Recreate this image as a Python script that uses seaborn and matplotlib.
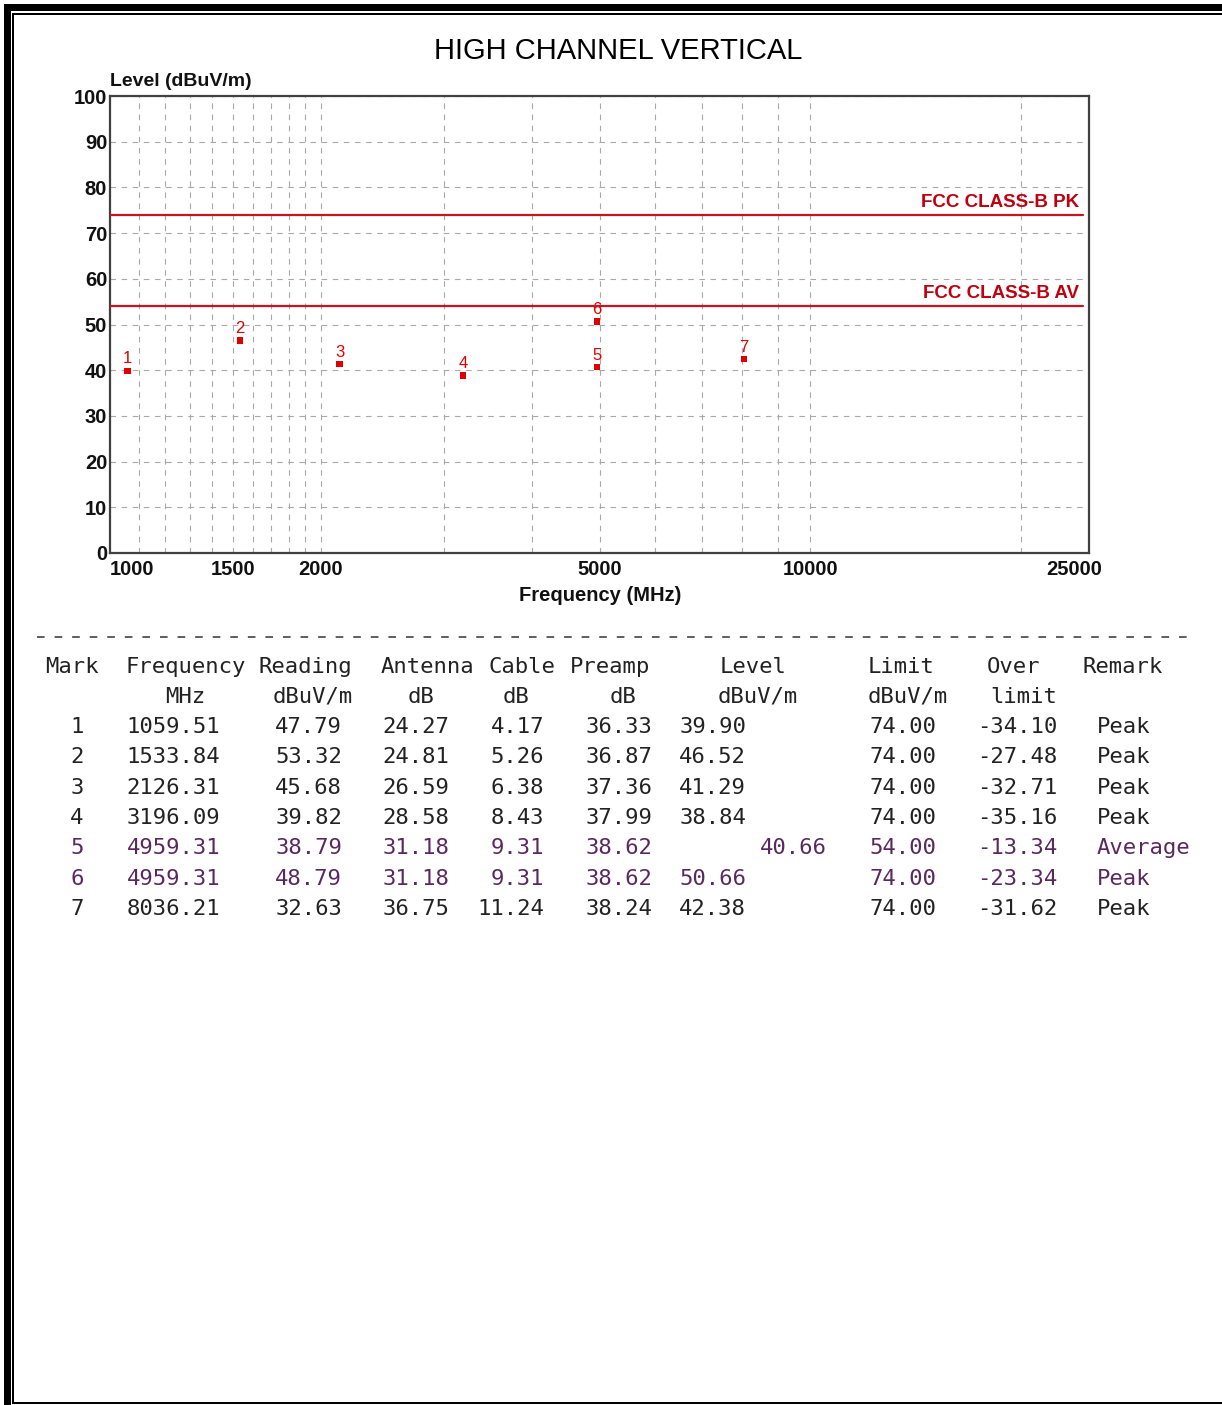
import matplotlib
matplotlib.use('Agg')
import matplotlib.pyplot as plt
import matplotlib.transforms as mtransforms
from matplotlib.ticker import NullFormatter
import seaborn as sns
import pandas as pd

# measured data (marker table)
marks = [1, 2, 3, 4, 5, 6, 7]
freq = [1059.51, 1533.84, 2126.31, 3196.09, 4959.31, 4959.31, 8036.21]
reading = [47.79, 53.32, 45.68, 39.82, 38.79, 48.79, 32.63]
antenna = [24.27, 24.81, 26.59, 28.58, 31.18, 31.18, 36.75]
cable = [4.17, 5.26, 6.38, 8.43, 9.31, 9.31, 11.24]
preamp = [36.33, 36.87, 37.36, 37.99, 38.62, 38.62, 38.24]
level = [39.90, 46.52, 41.29, 38.84, 40.66, 50.66, 42.38]
limit = [74.00, 74.00, 74.00, 74.00, 54.00, 74.00, 74.00]
over = [-34.10, -27.48, -32.71, -35.16, -13.34, -23.34, -31.62]
remark = ['Peak', 'Peak', 'Peak', 'Peak', 'Average', 'Peak', 'Peak']

# limit lines
limit_pk = 74
limit_av = 54
limit_names = ['FCC CLASS-B PK', 'FCC CLASS-B AV']

# axis ticks / grid
x_ticks = [1000, 1500, 2000, 5000, 10000, 25000]
x_grid = [1100, 1200, 1300, 1400, 1500, 1600, 1700, 1800, 1900, 2000,
          3000, 4000, 5000, 6000, 7000, 8000, 9000, 10000, 20000]
y_ticks = [0, 10, 20, 30, 40, 50, 60, 70, 80, 90, 100]

df = pd.DataFrame({'mark': marks, 'freq': freq, 'level': level})

W, H = 1222, 1405
NARROW = ['Liberation Sans Narrow', 'Liberation Sans', 'DejaVu Sans']
MONO = ['DejaVu Sans Mono']

sns.set_style('white')
plt.rcParams['font.family'] = ['Liberation Sans', 'DejaVu Sans']


def fx(x):
    return x / W


def fy(y):
    return 1 - y / H


fig = plt.figure(figsize=(W / 100, H / 100), dpi=100)

# page border (thick + thin double line)
def rect(x0, y0, x1, y1):
    fig.add_artist(plt.Rectangle((fx(x0), fy(y1)), fx(x1 - x0), (y1 - y0) / H,
                                 transform=fig.transFigure, color='black', lw=0))

rect(4, 4, W, 11)
rect(4, 4, 11, H)
rect(12, 13, W, 15)
rect(12, 13, 14, 1404)
rect(12, 1402, W, 1404)

ax = fig.add_axes([fx(110), fy(553), fx(1089 - 110), (553 - 96) / H])

sns.scatterplot(data=df, x='freq', y='level', ax=ax, marker='s', s=20,
                color='#e00000', edgecolor='none', legend=False, zorder=5)
for m, f, l in zip(marks, freq, level):
    ax.annotate(str(m), (f, l), xytext=(0, 3), textcoords='offset points',
                ha='center', va='bottom', color='#e00000', fontsize=12,
                family=NARROW)

ax.axhline(limit_pk, color='#c8141e', lw=1.6, xmax=0.994, zorder=4)
ax.axhline(limit_av, color='#c8141e', lw=1.6, xmax=0.994, zorder=4)
for val, name in zip([limit_pk, limit_av], limit_names):
    ax.annotate(name, (0.99, val), xycoords=('axes fraction', 'data'),
                xytext=(0, 3), textcoords='offset points', ha='right', va='bottom',
                color='#c00010', fontsize=13.5, fontweight='bold', family=NARROW)

ax.set_xscale('log')
ax.set_xlim(1000, 25000)
ax.set_ylim(0, 100)

ax.xaxis.remove_overlapping_locs = False
ax.set_xticks(x_ticks)
ax.set_xticklabels([str(t) for t in x_ticks])
ax.set_xticks(x_grid, minor=True)
ax.xaxis.set_minor_formatter(NullFormatter())
ax.set_yticks(y_ticks)
ax.set_yticklabels([str(t) for t in y_ticks])
ax.tick_params(axis='both', which='both', length=0)
ax.tick_params(axis='x', pad=5)
ax.tick_params(axis='y', pad=2)
for lab in ax.get_xticklabels() + ax.get_yticklabels():
    lab.set_fontfamily(NARROW)
    lab.set_fontweight('bold')
    lab.set_fontsize(14.5)
    lab.set_color('#111111')

xl = ax.get_xticklabels()
xl[0].set_ha('left')
xl[-1].set_transform(xl[-1].get_transform() +
                     mtransforms.ScaledTranslation(-15 / 100, 0, fig.dpi_scale_trans))

ax.grid(False)
ax.grid(which='minor', axis='x', color='#a8a8a8', lw=0.8, ls=(0, (5, 5)))
ax.grid(which='major', axis='y', color='#a8a8a8', lw=0.8, ls=(0, (5, 5)))
for sp in ax.spines.values():
    sp.set_color('#404040')
    sp.set_linewidth(1.6)
ax.set_xlabel('')
ax.set_ylabel('')

fig.text(fx(618), fy(51), 'HIGH CHANNEL VERTICAL', ha='center', va='center',
         fontsize=21, color='black')
fig.text(fx(110), fy(82), 'Level (dBuV/m)', ha='left', va='center',
         fontsize=14, fontweight='bold', family=NARROW, color='#111111')
fig.text(fx(600), fy(595), 'Frequency (MHz)', ha='center', va='center',
         fontsize=14.5, fontweight='bold', family=NARROW, color='#111111')

# separator
fig.add_artist(plt.Line2D([fx(37), fx(1190)], [fy(637), fy(637)],
                          transform=fig.transFigure, color='#333333', lw=1.1,
                          ls=(0, (5, 6.5))))

# table
txt_kw = dict(fontsize=16, family=MONO, va='center')
head1 = [('Mark', 45), ('Frequency', 125), ('Reading', 259), ('Antenna', 381),
         ('Cable', 489), ('Preamp', 570), ('Level', 720), ('Limit', 868),
         ('Over', 987), ('Remark', 1083)]
head2 = [('MHz', 165), ('dBuV/m', 273), ('dB', 408), ('dB', 503), ('dB', 610),
         ('dBuV/m', 718), ('dBuV/m', 868), ('limit', 990)]
for s, x in head1:
    fig.text(fx(x), fy(667), s, ha='left', color='#222222', **txt_kw)
for s, x in head2:
    fig.text(fx(x), fy(697), s, ha='left', color='#222222', **txt_kw)

highlight = [5, 6]
for i in range(len(marks)):
    y = fy(727 + 30.33 * i)
    c = '#5a2860' if marks[i] in highlight else '#222222'
    fig.text(fx(77), y, str(marks[i]), ha='center', color=c, **txt_kw)
    cols = [(f'{freq[i]:.2f}', 220), (f'{reading[i]:.2f}', 342),
            (f'{antenna[i]:.2f}', 449), (f'{cable[i]:.2f}', 544),
            (f'{preamp[i]:.2f}', 652),
            (f'{level[i]:.2f}', 827 if remark[i] == 'Average' else 746),
            (f'{limit[i]:.2f}', 936), (f'{over[i]:.2f}', 1057)]
    for s, x in cols:
        fig.text(fx(x), y, s, ha='right', color=c, **txt_kw)
    fig.text(fx(1097), y, remark[i], ha='left', color=c, **txt_kw)

plt.savefig('out.png', dpi=100)
